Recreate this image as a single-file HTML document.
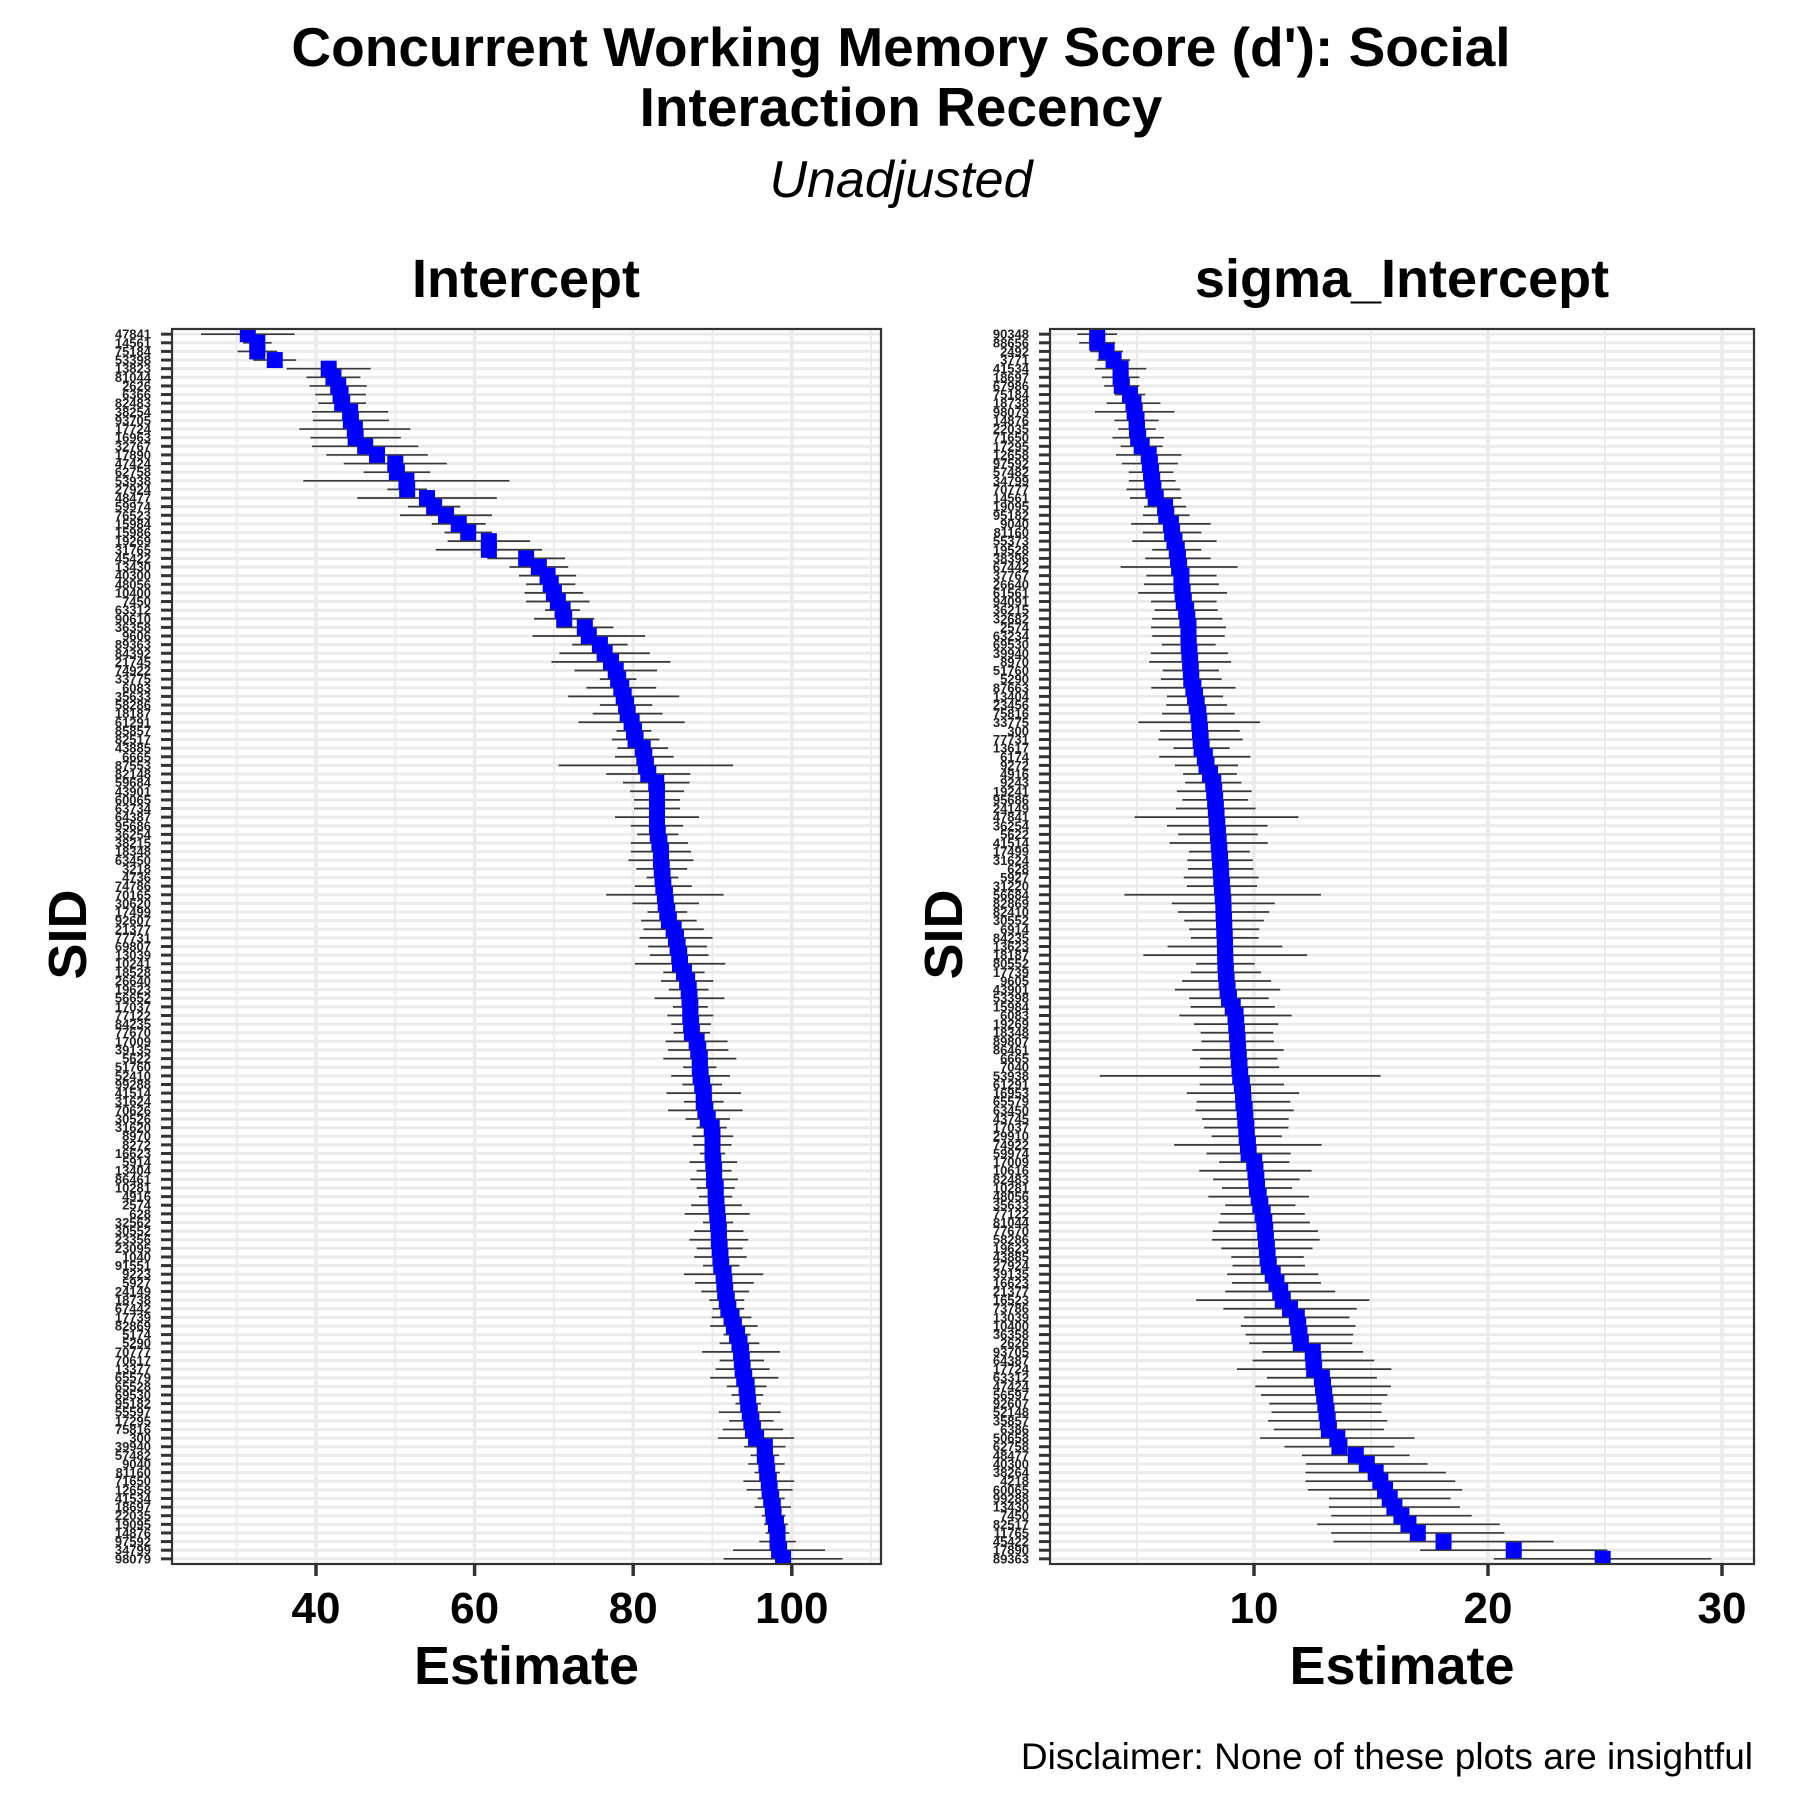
<!DOCTYPE html>
<html><head><meta charset="utf-8"><style>
html,body{margin:0;padding:0;background:#fff;}
svg{display:block;font-family:"Liberation Sans",Arial,sans-serif;}
</style></head><body>
<svg id="chart" width="1800" height="1800" viewBox="0 0 1800 1800" xmlns="http://www.w3.org/2000/svg">
<defs>
<clipPath id="clipL"><rect x="172" y="329" width="709" height="1235"/></clipPath>
<clipPath id="clipR"><rect x="1050" y="329" width="704" height="1235"/></clipPath>
</defs>
<text x="901" y="66" text-anchor="middle" font-size="55" font-weight="bold">Concurrent Working Memory Score (d'): Social</text>
<text x="901" y="126" text-anchor="middle" font-size="55" font-weight="bold">Interaction Recency</text>
<text x="901" y="197" text-anchor="middle" font-size="52" font-style="italic">Unadjusted</text>
<text x="526" y="297" text-anchor="middle" font-size="54" font-weight="bold">Intercept</text>
<text x="1402" y="297" text-anchor="middle" font-size="54" font-weight="bold">sigma_Intercept</text>
<text x="1753" y="1769" text-anchor="end" font-size="37">Disclaimer: None of these plots are insightful</text>
<g id="gL"></g>
<g id="gR"></g>
</svg>
<script>
const leftEstimates=[31.4,32.6,32.6,34.8,41.6,42.2,42.8,43.1,43.3,44.3,44.4,44.9,45.0,46.2,47.7,50.0,50.2,51.4,51.5,54.0,54.9,56.4,58.0,59.2,61.8,61.8,66.5,68.1,69.2,69.6,70.0,70.5,71.1,71.3,73.9,74.4,75.8,76.4,77.2,77.8,78.1,78.5,78.8,79.1,79.3,79.8,80.1,80.3,81.2,81.4,81.6,81.9,82.9,83.0,83.0,83.0,83.0,83.0,83.1,83.3,83.5,83.5,83.6,83.7,83.8,84.0,84.1,84.3,84.5,85.1,85.4,85.6,85.8,85.9,86.4,86.8,87.0,87.1,87.2,87.2,87.3,87.4,88.0,88.2,88.4,88.4,88.5,88.7,88.9,88.9,89.1,89.4,89.9,90.0,90.0,90.0,90.1,90.2,90.2,90.4,90.4,90.5,90.6,90.7,90.8,90.8,90.9,91.0,91.1,91.4,91.5,91.6,91.8,92.0,92.4,92.7,93.1,93.4,93.6,93.7,93.8,94.0,94.3,94.4,94.5,94.7,94.9,95.1,95.5,96.6,96.6,96.8,96.9,97.1,97.2,97.4,97.6,97.7,98.0,98.2,98.2,98.4,98.9];
const leftHalfWidths=[5.9,1.8,2.5,2.7,5.3,3.4,3.6,3.2,3.0,4.8,4.8,7.0,5.7,6.7,6.4,6.5,4.2,13,2.5,8.8,3.3,5.8,3.4,3.0,5.2,6.7,4.9,3.7,3.6,3.1,3.7,4.0,2.2,3.8,3.6,7.1,3.5,5.7,7.5,5.2,2.3,4.4,7.0,3.3,4.4,6.7,2.2,3.0,3.2,3.7,11,5.3,4.2,3.4,2.9,2.9,5.3,3.3,2.6,3.6,3.8,4.1,3.2,2.0,3.6,7.4,4.2,2.5,3.5,3.8,4.6,3.7,3.7,5.7,2.6,3.3,2.5,4.4,2.2,2.9,2.5,2.3,3.9,3.8,4.6,2.1,3.7,2.5,4.7,2.5,4.7,2.8,1.9,2.6,2.4,1.6,3.0,2.2,3.0,2.4,2.1,3.2,4.1,1.9,3.1,3.7,2.9,3.3,2.3,5.0,3.7,3.0,2.2,2.0,2.5,3.0,1.7,2.5,4.9,2.8,3.4,4.3,2.5,2.0,1.6,3.9,2.8,3.8,4.8,2.6,1.8,2.3,1.6,3.2,2.9,1.7,2.3,1.5,1.5,1.5,2.3,5.8,7.5];
const leftLabels=["47841","14561","75184","53398","13823","81044","2626","6366","82483","38254","93705","17724","16963","32767","17890","47424","62758","53938","27924","48477","59974","76523","15984","15986","19269","31765","45422","13430","40300","48056","10400","7450","63312","90610","36358","9606","89363","84392","21745","74922","33775","6083","35633","58286","18187","61291","85857","82517","43885","6665","87553","82148","59684","43901","60065","63734","64387","95686","36254","38215","18348","63450","3218","4736","74786","70165","30620","17499","92607","21377","77731","69807","13039","10241","18528","26640","19623","56652","17037","77122","84235","77670","17009","39135","5622","51760","52410","99288","41514","31624","70626","30526","31620","8970","8272","16623","5914","13404","86461","10281","4916","2574","628","32562","30552","23356","23095","1040","91551","9223","5927","24149","18738","67442","17739","82869","5174","5290","70777","70617","13377","65579","65528","69530","95182","55597","17295","75816","300","39940","57482","9040","81160","71650","12658","41534","18697","22035","19095","14876","97592","34799","98079"];
const leftTicks=[40,60,80,100];
const leftMinorTicks=[30,50,70,90,110];

const rightEstimates=[3.3,3.3,3.7,4.0,4.3,4.3,4.35,4.7,4.85,4.9,4.98,5.0,5.05,5.2,5.5,5.55,5.6,5.65,5.7,5.8,6.2,6.25,6.45,6.5,6.6,6.7,6.75,6.8,6.9,6.9,6.95,7.0,7.1,7.15,7.2,7.2,7.21,7.24,7.27,7.30,7.32,7.41,7.48,7.55,7.62,7.66,7.69,7.72,7.76,7.9,7.97,8.12,8.26,8.3,8.34,8.37,8.40,8.43,8.46,8.49,8.52,8.55,8.58,8.60,8.63,8.66,8.69,8.70,8.72,8.73,8.75,8.76,8.77,8.78,8.8,8.83,8.87,8.93,9.09,9.21,9.24,9.27,9.30,9.32,9.35,9.38,9.41,9.48,9.53,9.55,9.60,9.63,9.67,9.69,9.74,9.77,10.01,10.06,10.10,10.13,10.20,10.27,10.37,10.44,10.48,10.51,10.55,10.58,10.63,10.8,10.96,11.12,11.23,11.54,11.83,11.89,11.94,12.0,12.51,12.54,12.57,12.9,12.95,13.0,13.05,13.1,13.15,13.2,13.56,13.65,14.35,14.82,15.2,15.4,15.6,15.8,16.0,16.3,16.6,17.0,18.1,21.1,24.9];
const rightHalfWidths=[0.85,0.77,0.7,0.7,1.1,0.8,0.75,0.65,1.15,1.7,0.95,0.8,1.1,0.9,1.4,1.2,0.95,1.0,1.15,1.1,0.9,1.0,1.7,1.25,1.8,1.05,1.4,2.5,1.5,1.6,1.9,1.4,1.35,1.5,1.6,1.55,1.15,1.65,1.75,1.2,1.3,1.8,1.2,1.3,1.55,2.6,1.7,1.8,1.2,1.95,1.35,1.15,1.2,1.6,1.4,1.7,3.5,2.15,1.7,2.1,1.3,1.4,1.4,1.6,1.5,4.2,2.2,1.95,1.7,1.5,1.45,2.45,3.5,1.25,1.5,1.9,2.25,1.7,1.8,2.4,1.8,1.55,1.55,1.95,1.65,1.7,6,1.8,2.4,2.0,2.1,1.85,1.8,1.5,3.15,1.8,1.5,2.4,1.85,1.5,2.15,1.5,1.8,1.95,2.25,2.3,1.95,1.55,1.55,1.95,1.9,2.35,3.7,2.85,2.25,2.45,2.3,2.2,2.15,2.6,3.3,2.35,2.9,2.7,2.4,2.35,2.55,2.35,3.3,2.35,2.3,2.6,3.0,3.2,3.3,2.6,2.8,3.0,3.9,3.7,4.7,4.0,4.65];
const rightLabels=["90348","88656","2492","3771","41534","18697","67986","75184","18738","98079","14876","22035","71650","17295","12658","97592","57482","34799","70777","14561","19095","95182","9040","81160","55373","19528","38396","67442","37767","26640","61561","94091","36215","32682","2574","63234","69530","39940","8970","51760","5290","87663","13404","23456","75816","33775","300","77731","13617","6174","9272","4916","9243","19241","95686","24149","47841","36254","5622","41514","17499","31624","628","5927","31220","56684","82869","82410","30552","6914","84235","13623","18187","80552","17739","9605","43901","53398","15984","6083","19269","18348","89807","86461","6665","7040","53938","61291","16953","65579","63450","43745","17037","29910","74922","59974","17009","10616","82483","10281","48056","35633","77122","81044","77670","58286","19623","43885","27924","39135","16623","21377","16523","73786","13039","10400","36358","2626","93705","64387","17724","63312","47424","56597","92607","52148","35857","6386","50658","62758","48477","40300","38264","4218","60065","99288","13430","7450","82517","11765","45422","17890","89363"];
const rightTicks=[10,20,30];
const rightMinorTicks=[5,15,25];

const NS="http://www.w3.org/2000/svg";
function mk(tag,attrs,parent){const e=document.createElementNS(NS,tag);for(const k in attrs)e.setAttribute(k,attrs[k]);parent.appendChild(e);return e;}
const TOP=329,BOT=1564;

function drawPanel(g,clipId,x0,x1,xScale,est,hw,labels,ticks,minor,prefix,sidX){
  const n=est.length;
  const step=(BOT-TOP)/(n-1+1.2);
  const yS=i=>TOP+(0.6+i)*step;
  const bg=mk('rect',{x:x0,y:TOP,width:x1-x0,height:BOT-TOP,fill:'#fff'},g);
  
  
  const grid=mk('g',{'clip-path':'url(#'+clipId+')'},g);
  
  
  for(let i=0;i<n;i++){mk('line',{x1:x0,x2:x1,y1:yS(i),y2:yS(i),stroke:'#ebebeb','stroke-width':3},grid);}
  minor.forEach(v=>{mk('line',{x1:xScale(v),x2:xScale(v),y1:TOP,y2:BOT,stroke:'#ebebeb','stroke-width':2},grid);});
  ticks.forEach(v=>{mk('line',{x1:xScale(v),x2:xScale(v),y1:TOP,y2:BOT,stroke:'#ebebeb','stroke-width':3.5},grid);});
  const marks=mk('g',{'clip-path':'url(#'+clipId+')'},g);
  
  
  for(let i=0;i<n;i++){
    const y=yS(i);
    const ln=mk('line',{x1:xScale(est[i]-hw[i]),x2:xScale(est[i]+hw[i]),y1:y,y2:y,stroke:'#3a3a3a','stroke-width':1.7},marks);
    
    
  }
  for(let i=0;i<n;i++){
    const y=yS(i);
    const pt=mk('rect',{x:xScale(est[i])-8,y:y-8,width:16,height:16,fill:'#0000ff'},marks);
    
    
  }
  const border=mk('rect',{x:x0,y:TOP,width:x1-x0,height:BOT-TOP,fill:'none',stroke:'#333','stroke-width':2.2},g);
  
  
  const yl=mk('g',{},g);
  
  
  for(let i=0;i<n;i++){
    const y=yS(i);
    mk('line',{x1:x0-11,x2:x0,y1:y,y2:y,stroke:'#333','stroke-width':3},yl);
    const t=mk('text',{x:x0-21,y:y+4.5,'text-anchor':'end','font-size':13,'font-weight':'bold',fill:'#222'},yl);
    t.textContent=labels[i]||'';
  }
  const xl=mk('g',{},g);
  
  
  ticks.forEach(v=>{
    mk('line',{x1:xScale(v),x2:xScale(v),y1:BOT,y2:BOT+12,stroke:'#333','stroke-width':3.5},xl);
    const t=mk('text',{x:xScale(v),y:1623,'text-anchor':'middle','font-size':44,'font-weight':'bold'},xl);
    t.textContent=v;
  });
  const xt=mk('text',{x:(x0+x1)/2,y:1684,'text-anchor':'middle','font-size':54,'font-weight':'bold'},g);
  xt.textContent='Estimate';
  
  
  const sx=sidX, sy=(TOP+BOT)/2-12;
  const yt=mk('text',{x:sx,y:sy,'text-anchor':'middle','dominant-baseline':'central','font-size':54,'font-weight':'bold',transform:'rotate(-90 '+sx+' '+sy+')'},g);
  yt.textContent='SID';
  
  
}
const xL=v=>316+(v-40)*7.93;
const xR=v=>1254+(v-10)*23.4;
const gL=document.getElementById('gL');


const gR=document.getElementById('gR');


drawPanel(gL,'clipL',172,881,xL,leftEstimates,leftHalfWidths,leftLabels,leftTicks,leftMinorTicks,'intercept',68);
drawPanel(gR,'clipR',1050,1754,xR,rightEstimates,rightHalfWidths,rightLabels,rightTicks,rightMinorTicks,'sigma',944);
</script>
</body></html>
